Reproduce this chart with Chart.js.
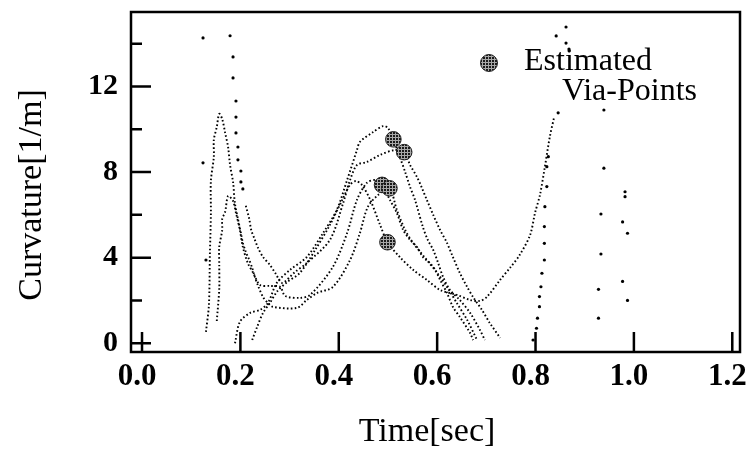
<!DOCTYPE html>
<html><head><meta charset="utf-8">
<script src="https://cdn.jsdelivr.net/npm/chart.js@4.4.1/dist/chart.umd.min.js"></script>
<style>html,body{margin:0;padding:0;background:#fff;}#wrap{width:750px;height:453px;}</style>
</head><body><div id="wrap"><canvas id="c" width="750" height="453"></canvas></div>
<script>
// ---- tick values ----
const xTickValues = [0.0, 0.2, 0.4, 0.6, 0.8, 1.0, 1.2];
const yMajorTicks = [0, 4, 8, 12];
const yMinorTicks = [2, 6, 10, 14];

// ---- trajectories: time [sec] and curvature [1/m] ----
const curveA_t = [0.189,0.199,0.220,0.240,0.256,0.274,0.301,0.335,0.368,0.396,0.417,0.437,0.443,0.470,0.490,0.500,0.511,0.524,0.535,0.545,0.555,0.571,0.581,0.592,0.602,0.612,0.626,0.646,0.667,0.687,0.697];
const curveA_v = [0.00,1.00,1.42,1.56,1.88,2.82,3.43,4.03,5.15,6.23,7.63,9.03,9.41,9.87,10.15,10.06,9.53,8.71,8.00,7.30,6.70,5.43,4.83,4.36,3.75,3.10,2.49,2.02,1.42,0.62,0.15];

const curveB_t = [0.211,0.218,0.222,0.228,0.236,0.246,0.260,0.272,0.285,0.311,0.335,0.382,0.409,0.423,0.437,0.457,0.484,0.514,0.533,0.545,0.559,0.569,0.579,0.592,0.606,0.620,0.632,0.646,0.661,0.673,0.691,0.707,0.728];
const curveB_v = [6.42,5.81,5.29,4.92,4.45,4.03,3.66,3.24,2.82,3.33,3.75,4.83,6.56,7.63,8.33,8.47,8.80,9.03,8.93,8.33,7.77,7.26,6.70,6.00,5.29,4.69,4.03,3.29,2.63,2.16,1.56,0.95,0.25];

const curveC_t = [0.152,0.157,0.157,0.157,0.163,0.163,0.169,0.175,0.185,0.191,0.199,0.205,0.215,0.226,0.240,0.260,0.281,0.291,0.321,0.342,0.388,0.417,0.437,0.457,0.474,0.488,0.504,0.518,0.531,0.545,0.559,0.571,0.585,0.596,0.606,0.620,0.632,0.646,0.667,0.673];
const curveC_v = [1.04,2.54,3.66,4.50,5.29,5.81,6.14,6.88,6.65,6.09,5.29,4.50,3.75,3.29,2.72,2.68,2.63,2.21,2.12,2.26,3.57,5.15,6.70,7.49,7.63,7.40,6.70,6.09,5.29,4.83,4.50,4.03,3.75,3.43,2.96,2.35,1.70,1.23,0.48,0.15];

const curveD_t = [0.130,0.136,0.138,0.140,0.140,0.146,0.146,0.152,0.157,0.163,0.169,0.175,0.179,0.185,0.189,0.195,0.201,0.205,0.211,0.218,0.224,0.228,0.236,0.246,0.256,0.266,0.315,0.335,0.356,0.388,0.423,0.443,0.459,0.480,0.503,0.518,0.535,0.551,0.579,0.600,0.620,0.640,0.661,0.681];
const curveD_v = [0.53,1.79,4.17,6.04,7.58,8.71,9.50,10.11,10.72,10.48,9.83,9.17,8.33,7.54,6.51,5.81,5.15,4.69,4.27,3.89,3.52,3.19,2.68,2.16,1.88,1.70,1.65,2.02,2.35,2.63,3.89,5.15,6.37,6.93,7.24,6.23,5.29,4.69,3.89,3.29,2.63,1.88,1.09,0.15];

const curveE_t = [0.224,0.234,0.246,0.260,0.274,0.295,0.321,0.352,0.382,0.407,0.423,0.435,0.447,0.464,0.484,0.499,0.524,0.551,0.579,0.606,0.640,0.667,0.687,0.701,0.728,0.748,0.768,0.789,0.799,0.809,0.819,0.829,0.838];
const curveE_v = [0.15,0.76,1.42,1.88,2.40,2.86,3.29,4.36,5.53,6.70,7.40,7.58,7.40,6.70,5.53,4.72,4.03,3.43,2.96,2.49,2.26,2.02,1.98,2.16,2.96,3.52,4.13,5.06,6.09,6.93,8.24,9.64,10.58];

// isolated (sparse) samples of the fast spikes
const spike_t = [0.124,0.124,0.130,0.179,0.185,0.185,0.191,0.191,0.191,0.195,0.195,0.201,0.201,0.205,
                 0.795,0.802,0.804,0.808,0.808,0.811,0.813,0.818,0.818,0.818,0.819,0.823,0.823,0.826,
                 0.846,0.842,0.862,0.862,0.868,
                 0.939,0.939,0.933,0.933,0.928,0.928,
                 0.982,0.982,0.977,0.987,0.977,0.987];
const spike_v = [14.27,8.43,3.89,14.37,13.38,12.40,11.32,10.57,9.83,9.17,8.57,8.05,7.54,7.21,
                 0.15,0.70,1.17,1.71,2.18,2.64,3.27,3.89,4.67,5.45,6.38,7.32,8.25,8.72,
                 10.77,14.36,14.78,14.03,13.75,
                 10.90,8.18,6.04,4.17,2.52,1.17,
                 7.08,6.85,5.67,5.14,2.89,2.00];

// estimated via-points
const via_t = [0.511, 0.533, 0.488, 0.503, 0.499];
const via_v = [9.53, 8.93, 7.40, 7.24, 4.72];

const legendLabel = ['Estimated', 'Via-Points'];
const xTitle = 'Time[sec]';
const yTitle = 'Curvature[1/m]';

// ---------------------------------------------------
const SERIF = '"Liberation Serif", "Times New Roman", serif';
const pts = (t, v) => t.map((x, i) => ({x: x, y: v[i]}));

function makePattern() {
  const c = document.createElement('canvas');
  c.width = 3; c.height = 3;
  const g = c.getContext('2d');
  g.fillStyle = '#a8a8a8'; g.fillRect(0, 0, 3, 3);
  g.fillStyle = '#1a1a1a'; g.fillRect(0, 0, 2, 2);
  return document.getElementById('c').getContext('2d').createPattern(c, 'repeat');
}
const hatch = makePattern();

function curveDs(t, v) {
  return {data: pts(t, v), showLine: true, borderColor: '#000', borderWidth: 1.9,
          borderDash: [1.6, 2.3], tension: 0.3, pointRadius: 0, order: 2};
}

const frame = {
  id: 'frame',
  afterDatasetsDraw(chart) {
    const {ctx, chartArea: a, scales: {x, y}} = chart;
    ctx.save();
    ctx.strokeStyle = '#000';
    ctx.lineWidth = 2.5;
    ctx.strokeRect(a.left, a.top, a.right - a.left, a.bottom - a.top);
    ctx.beginPath();
    yMajorTicks.forEach(v => { const p = y.getPixelForValue(v); ctx.moveTo(a.left, p); ctx.lineTo(a.left + 20, p); });
    yMinorTicks.forEach(v => { const p = y.getPixelForValue(v); ctx.moveTo(a.left, p); ctx.lineTo(a.left + 11, p); });
    xTickValues.forEach(v => { const p = x.getPixelForValue(v); ctx.moveTo(p, a.bottom); ctx.lineTo(p, a.bottom - 20); });
    ctx.stroke();
    // legend
    ctx.beginPath();
    ctx.arc(489, 63, 8.5, 0, Math.PI * 2);
    ctx.fillStyle = hatch; ctx.fill();
    ctx.lineWidth = 1; ctx.strokeStyle = '#222'; ctx.stroke();
    ctx.fillStyle = '#000';
    ctx.font = '32px ' + SERIF;
    ctx.textBaseline = 'alphabetic';
    ctx.textAlign = 'left';
    ctx.fillText(legendLabel[0], 524, 70);
    ctx.fillText(legendLabel[1], 562, 100);
    // axis titles
    ctx.font = '34px ' + SERIF;
    ctx.textAlign = 'center';
    ctx.fillText(xTitle, 427, 441);
    ctx.translate(41, 195);
    ctx.rotate(-Math.PI / 2);
    ctx.fillText(yTitle, 0, 0);
    ctx.restore();
  }
};

new Chart(document.getElementById('c'), {
  type: 'scatter',
  data: {
    datasets: [
      {data: pts(via_t, via_v), pointRadius: 7.8, pointBackgroundColor: hatch,
       pointBorderColor: '#222', pointBorderWidth: 1, order: 0},
      curveDs(curveA_t, curveA_v),
      curveDs(curveB_t, curveB_v),
      curveDs(curveC_t, curveC_v),
      curveDs(curveD_t, curveD_v),
      curveDs(curveE_t, curveE_v),
      {data: pts(spike_t, spike_v), pointRadius: 1.6, pointBackgroundColor: '#000',
       pointBorderWidth: 0, order: 1}
    ]
  },
  options: {
    responsive: false,
    animation: false,
    devicePixelRatio: 1,
    layout: {padding: {left: 0, right: 10, top: 12, bottom: 0}},
    plugins: {legend: {display: false}, tooltip: {enabled: false}},
    scales: {
      x: {
        type: 'linear', min: -0.0224, max: 1.2157,
        grid: {display: false, drawTicks: false},
        border: {display: false},
        ticks: {stepSize: 0.2, includeBounds: false, padding: 6, labelOffset: -5, color: '#000',
                font: {family: SERIF, size: 31, weight: 'bold'},
                maxRotation: 0, autoSkip: false,
                callback: v => v.toFixed(1)},
        title: {display: false},
        afterFit(s) { s.height = 101; s.paddingLeft = 0; s.paddingRight = 0; }
      },
      y: {
        type: 'linear', min: -0.41, max: 15.48,
        grid: {display: false, drawTicks: false},
        border: {display: false},
        ticks: {stepSize: 4, includeBounds: false, padding: 13, color: '#000',
                font: {family: SERIF, size: 30, weight: 'bold'},
                callback: v => String(v)},
        title: {display: false},
        afterFit(s) { s.width = 131; s.paddingTop = 0; s.paddingBottom = 0; }
      }
    }
  },
  plugins: [frame]
});
</script></body></html>
